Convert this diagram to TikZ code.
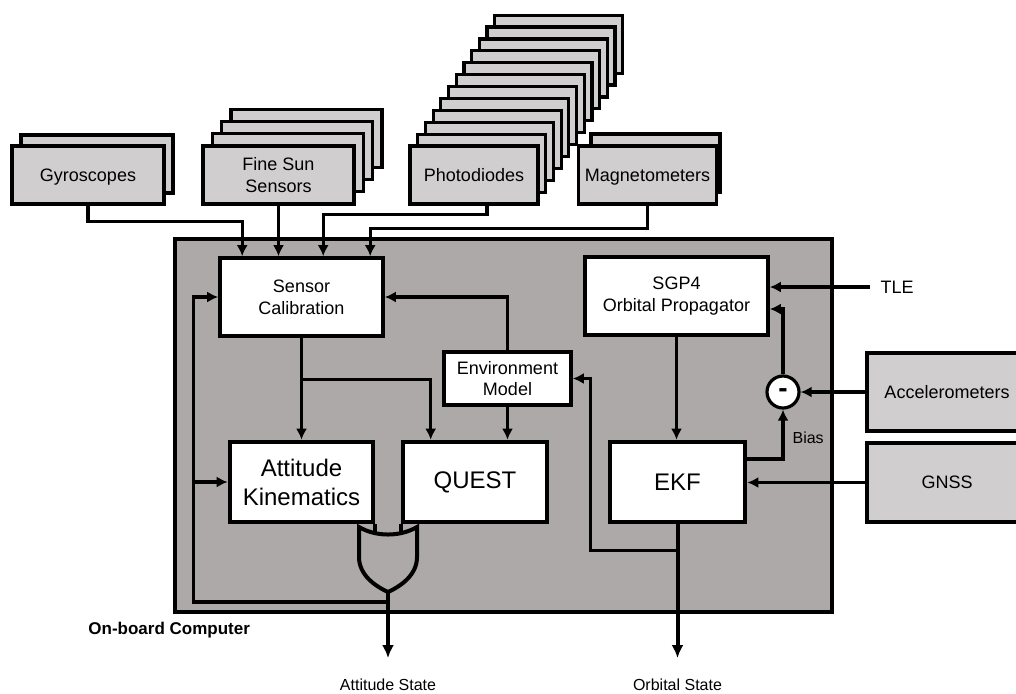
\documentclass[tikz,border=0pt]{standalone}
\usepackage{fontspec}
\setmainfont{Liberation Sans}
\usetikzlibrary{arrows.meta,calc,positioning}
\definecolor{sensorgray}{RGB}{208,206,207}
\definecolor{obcgray}{RGB}{173,169,168}
\tikzset{
  sensor/.style={draw, line width=1.6pt, fill=sensorgray, minimum height=29pt, align=center, text depth=0pt, font=\fontsize{9}{11}\selectfont},
  block/.style={draw, line width=1.8pt, fill=white, align=center, font=\fontsize{9}{10.8}\selectfont},
  bigblock/.style={block, line width=2.3pt, minimum height=40pt, font=\fontsize{12}{14.5}\selectfont},
  conn/.style={line width=1.6pt, -{Latex[length=5.5pt,width=5.5pt]}},
  outconn/.style={line width=2pt, -{Latex[length=6.5pt,width=6pt]}},
  lbl/.style={font=\fontsize{8}{9}\selectfont},
}
\begin{document}
\begin{tikzpicture}[x=0.5pt, y=-0.5pt]
\useasboundingbox (0,0) rectangle (1016,693);

\foreach \k in {1}
  \node[sensor, minimum width=76pt] at (88+9*\k,175-11*\k) {};
\node[sensor, minimum width=76pt] (gyro) at (88,175) {Gyroscopes};
\foreach \k in {3,2,1}
  \node[sensor, minimum width=75.5pt] at (278.5+9.3*\k,175-12.3*\k) {};
\node[sensor, minimum width=75.5pt] (fss) at (278.5,175) {Fine Sun\\Sensors};
\foreach \k in {11,...,1}
  \node[sensor, minimum width=64pt] at (474+7.7*\k,175-11.9*\k) {};
\node[sensor, minimum width=64pt] (pd) at (474,175) {Photodiodes};
\foreach \k in {1}
  \node[sensor, minimum width=64.5pt] at (647.5+8*\k,175-12*\k) {};
\node[sensor, minimum width=64.5pt] (mag) at (647.5,175) {Magnetometers};

\node[draw, line width=1.6pt, fill=obcgray, minimum width=328.5pt, minimum height=186.5pt] (obc) at (503.5,425.5) {};
\node[anchor=west, inner sep=0pt, font=\bfseries\fontsize{8.5}{10}\selectfont] (obclbl) at (88,630) {On-board Computer};

\node[block, minimum width=81.5pt, minimum height=39pt] (cal) at (301.5,297) {Sensor\\Calibration};
\node[block, minimum width=63.5pt, minimum height=26.5pt] (env) at (507.5,378.5) {Environment\\Model};
\node[bigblock, minimum width=71.5pt] (ak) at (301.5,482) {Attitude\\Kinematics};
\node[bigblock, minimum width=72pt] (quest) at (475,482) {QUEST};
\node[block, minimum width=91.5pt, minimum height=39pt] (sgp) at (676.5,296) {SGP4\\Orbital Propagator};
\node[bigblock, minimum width=67.5pt] (ekf) at (677.5,482) {EKF};
\node[draw, circle, line width=1.6pt, fill=white, minimum size=16pt, inner sep=0pt, text height=0.51em, text depth=0pt, font=\bfseries\fontsize{14}{14}\selectfont] (minus) at (783,392) {-};
\node[sensor, minimum width=80pt, minimum height=39pt] (acc) at (947,392) {Accelerometers};
\node[sensor, minimum width=80pt, minimum height=39.5pt] (gnss) at (947,482.5) {GNSS};
\node[font=\fontsize{9}{11}\selectfont, inner sep=5pt] (tle) at (897,287) {TLE};

\draw[line width=2pt, fill=obcgray] (359,527) -- (359,557) .. controls (359,575) and (375,586) .. (388,592) .. controls (401,586) and (417,575) .. (417,557) -- (417,527) .. controls (400,537) and (376,537) .. cycle;
\coordinate (gout) at (388,592);
\draw[line width=2pt] (ak.south east) -- ++(0,9);
\draw[line width=2pt] (quest.south west) -- ++(0,9);

\node[lbl] (attst) at (388,685) {Attitude State};
\node[lbl] (orbst) at (677.5,685) {Orbital State};

\draw[conn] (gyro.south) -- ++(0,16) -| ($(cal.north west)+(24,0)$);
\draw[conn] (fss.south) -- (fss.south |- cal.north);
\draw[conn] ($(pd.south)+(13,0)$) -- ++(0,9) -| ($(cal.north west)+(105,0)$);
\draw[conn] (mag.south) -- ++(0,23) -| ($(cal.north west)+(152,0)$);
\draw[conn] (env.north) |- (cal.east);
\draw[conn] (cal.south) -- (ak.north);
\draw[conn] (cal.south) -- ++(0,42) -| ($(quest.north west)+(30,0)$);
\draw[conn] (env.south) -- (env.south |- quest.north);
\coordinate (bus) at ($(cal.west)+(-25,0)$);
\draw[conn] (gout) -- ++(0,10) -| (bus) -- (cal.west);
\draw[conn] (bus |- ak.west) -- (ak.west);
\draw[outconn, shorten >=7pt] (gout) -- (attst.north);
\draw[conn] (sgp.south) -- (sgp.south |- ekf.north);
\draw[outconn, shorten >=7pt] (ekf.south) -- (ekf.south |- orbst.north);
\draw[conn] (ekf.south) -- ++(0,26) -| ($(env.east)+(18,0)$) -- (env.east);
\draw[conn] (tle.west) -- (tle.west -| sgp.east);
\draw[conn] (minus.north) |- ($(sgp.east)+(0,13)$);
\draw[conn] (acc.west) -- (minus.east);
\draw[conn] ($(ekf.east)+(0,-23)$) -| (minus.south) node[pos=0.72, right, inner sep=4pt, font=\fontsize{8}{9}\selectfont] {Bias};
\draw[conn] (gnss.west) -- (gnss.west -| ekf.east);
\end{tikzpicture}
\end{document}
